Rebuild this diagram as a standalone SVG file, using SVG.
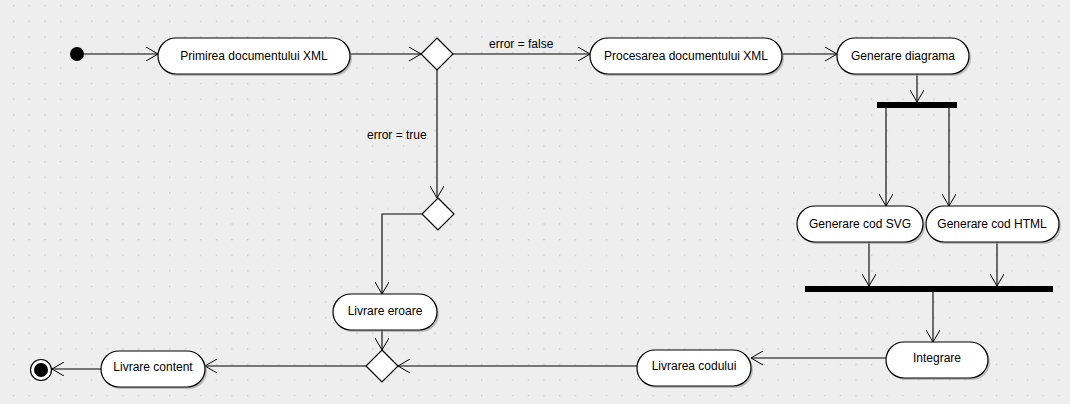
<svg xmlns="http://www.w3.org/2000/svg" width="1070" height="404" viewBox="0 0 1070 404">
<style>
.act{fill:#fff;stroke:#000;stroke-width:1.2}
.sh{fill:#9a9a9a;opacity:0.6}
.t{font-family:"Liberation Sans",Arial,sans-serif;font-size:12px;fill:#000;text-anchor:middle}
.lbl{font-family:"Liberation Sans",Arial,sans-serif;font-size:12px;fill:#000}
.c{fill:none;stroke:#000;stroke-width:1.1;marker-end:url(#arr)}
</style>
<defs>
<pattern id="grid" x="13" y="5" width="15.6" height="15.6" patternUnits="userSpaceOnUse">
<rect x="0" y="0" width="1.3" height="1.3" fill="#c8c8c8"/>
</pattern>
<marker id="arr" viewBox="0 0 12 14" refX="12" refY="7" markerWidth="12" markerHeight="14" markerUnits="userSpaceOnUse" orient="auto">
<path d="M0,0 L12,7 L0,14" fill="none" stroke="#000" stroke-width="1"/>
</marker>
</defs>
<rect width="1070" height="404" fill="#eeeeee"/>
<rect width="1070" height="404" fill="url(#grid)"/>

<g id="connectors">
<path class="c" d="M84,54 H158"/>
<path class="c" d="M350,54 H421"/>
<path class="c" d="M453,54 H590"/>
<path class="c" d="M782,54 H837"/>
<path class="c" d="M917,74 V102"/>
<path class="c" d="M886,108 V206"/>
<path class="c" d="M949,108 V206"/>
<path class="c" d="M869,242 V286"/>
<path class="c" d="M997,242 V286"/>
<path class="c" d="M933,292 V342"/>
<path class="c" d="M886,358 H751"/>
<path class="c" d="M637,366 H398"/>
<path class="c" d="M437,70 V198"/>
<path class="c" d="M422,214 H382 V294"/>
<path class="c" d="M382,330 V350"/>
<path class="c" d="M366,366 H205"/>
<path class="c" d="M101,369 H52"/>
<text class="lbl" x="489" y="48">error = false</text>
<text class="lbl" x="367" y="139">error = true</text>
</g>

<g id="start"><circle cx="77" cy="54" r="7" fill="#000"/></g>

<g id="n-primirea">
<rect class="sh" x="160" y="40" width="192" height="36" rx="18"/>
<rect class="act" x="158" y="38" width="192" height="36" rx="18"/>
<text class="t" x="254" y="60">Primirea documentului XML</text>
</g>

<g id="d1">
<polygon class="act" points="437,38 453,54 437,70 421,54"/>
</g>

<g id="n-procesarea">
<rect class="sh" x="592" y="40" width="192" height="36" rx="18"/>
<rect class="act" x="590" y="38" width="192" height="36" rx="18"/>
<text class="t" x="686" y="60">Procesarea documentului XML</text>
</g>

<g id="n-gendiag">
<rect class="sh" x="839" y="40" width="132" height="36" rx="18"/>
<rect class="act" x="837" y="38" width="132" height="36" rx="18"/>
<text class="t" x="903" y="60">Generare diagrama</text>
</g>

<g id="fork1"><rect x="877" y="102" width="80" height="6" fill="#000"/></g>

<g id="n-svg">
<rect class="sh" x="799" y="208" width="126" height="36" rx="18"/>
<rect class="act" x="797" y="206" width="126" height="36" rx="18"/>
<text class="t" x="860" y="228">Generare cod SVG</text>
</g>

<g id="n-html">
<rect class="sh" x="928" y="208" width="133" height="36" rx="18"/>
<rect class="act" x="926" y="206" width="133" height="36" rx="18"/>
<text class="t" x="992" y="228">Generare cod HTML</text>
</g>

<g id="join1"><rect x="805" y="286" width="248" height="6" fill="#000"/></g>

<g id="n-integrare">
<rect class="sh" x="888" y="344" width="102" height="36" rx="18"/>
<rect class="act" x="886" y="342" width="102" height="36" rx="18"/>
<text class="t" x="937" y="362">Integrare</text>
</g>

<g id="n-livcod">
<rect class="sh" x="639" y="352" width="114" height="36" rx="18"/>
<rect class="act" x="637" y="350" width="114" height="36" rx="18"/>
<text class="t" x="694" y="370">Livrarea codului</text>
</g>

<g id="d2">
<polygon class="act" points="438,198 454,214 438,230 422,214"/>
</g>

<g id="n-liverr">
<rect class="sh" x="335" y="296" width="104" height="36" rx="18"/>
<rect class="act" x="333" y="294" width="104" height="36" rx="18"/>
<text class="t" x="385" y="315">Livrare eroare</text>
</g>

<g id="d3">
<polygon class="act" points="382,350 398,366 382,382 366,366"/>
</g>

<g id="n-livcontent">
<rect class="sh" x="103" y="353" width="104" height="36" rx="18"/>
<rect class="act" x="101" y="351" width="104" height="36" rx="18"/>
<text class="t" x="153" y="371">Livrare content</text>
</g>

<g id="end">
<circle cx="41" cy="370" r="10.5" fill="#fff" stroke="#000" stroke-width="1.2"/>
<circle cx="41" cy="370" r="7" fill="#000"/>
</g>
</svg>
